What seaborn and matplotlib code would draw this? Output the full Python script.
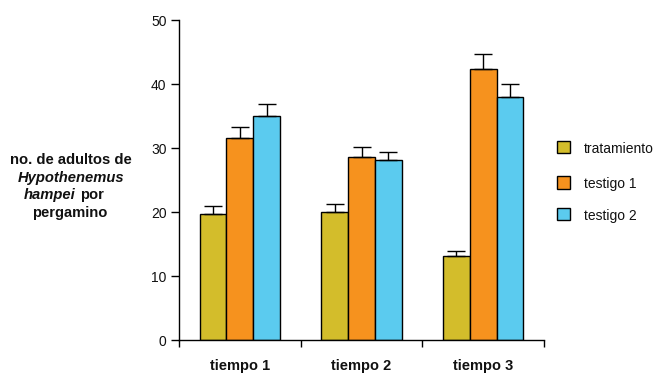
import pandas as pd
import seaborn as sns
import matplotlib.pyplot as plt
from matplotlib.ticker import FixedLocator

# Values
tiempos = ['tiempo 1', 'tiempo 2', 'tiempo 3']
grupos = ['tratamiento', 'testigo 1', 'testigo 2']
tratamiento = [19.7, 19.95, 13.1]
testigo_1 = [31.6, 28.6, 42.3]
testigo_2 = [35.0, 28.1, 37.9]
err_tratamiento = [1.2, 1.25, 0.85]
err_testigo_1 = [1.7, 1.6, 2.4]
err_testigo_2 = [1.8, 1.2, 2.1]
colores = ['#D3BD2B', '#F6921E', '#5BCBEF']

df = pd.DataFrame({
    'tiempo': tiempos * 3,
    'grupo': [g for g in grupos for _ in tiempos],
    'valor': tratamiento + testigo_1 + testigo_2,
    'err': err_tratamiento + err_testigo_1 + err_testigo_2,
})

sns.set_style('white')
plt.rcParams['font.family'] = ['Liberation Sans', 'DejaVu Sans']
plt.rcParams['text.color'] = '#111111'

fig = plt.figure(figsize=(6.59, 3.73), dpi=100)
ax = fig.add_axes([179 / 659, 33 / 373, 365 / 659, 320 / 373])

sns.barplot(data=df, x='tiempo', y='valor', hue='grupo', hue_order=grupos,
            palette=colores, saturation=1, width=0.66, gap=0, errorbar=None,
            edgecolor='black', linewidth=1.0, legend=False, ax=ax)

# upper error bars only
for cont, g in zip(ax.containers, grupos):
    errs = df.loc[df['grupo'] == g, 'err'].tolist()
    for bar, e in zip(cont, errs):
        xc = bar.get_x() + bar.get_width() / 2
        ax.errorbar(xc, bar.get_height(), yerr=[[0], [e]], fmt='none',
                    ecolor='black', elinewidth=1.0, capsize=6.5, capthick=1.0,
                    zorder=1)

ax.set_xlim(-0.5, 2.5)
ax.set_ylim(0, 50)
ax.set_yticks([0, 10, 20, 30, 40, 50])
ax.set_xlabel('')
ax.set_ylabel('')
sns.despine(ax=ax)
for s in ['left', 'bottom']:
    ax.spines[s].set_linewidth(1.0)
    ax.spines[s].set_color('black')

ax.tick_params(axis='y', direction='out', length=6, width=1.0, pad=3,
               labelsize=10, left=True, colors='black', labelcolor='#111111')
ax.tick_params(axis='x', which='major', length=0, pad=14, labelsize=10.5,
               labelcolor='#111111')
ax.xaxis.set_minor_locator(FixedLocator([-0.5, 0.5, 1.5, 2.5]))
ax.tick_params(axis='x', which='minor', direction='out', length=5, width=1.0,
               bottom=True, color='black')
for lab in ax.get_xticklabels():
    lab.set_fontweight('bold')

# y label made of pieces for the italic species name
def px(x, y):
    return x / 659, 1 - y / 373

kw = dict(fontsize=10.6, fontweight='bold', va='center')
fig.text(*px(71, 160), 'no. de adultos de', ha='center', **kw)
fig.text(*px(71, 178), 'Hypothenemus', ha='center', style='italic', **kw)
fig.text(*px(76, 195), 'hampei', ha='right', style='italic', **kw)
fig.text(*px(80, 195), 'por', ha='left', **kw)
fig.text(*px(70, 213), 'pergamino', ha='center', **kw)

# legend
leg_y = [147, 182, 214]
for g, c, y in zip(grupos, colores, leg_y):
    x0, y0 = px(557, y + 6.5)
    fig.patches.append(plt.Rectangle((x0, y0), 12.5 / 659, 12.5 / 373,
                                     transform=fig.transFigure,
                                     facecolor=c, edgecolor='black', lw=1.0))
    fig.text(*px(584, y + 2), g, ha='left', va='center', fontsize=10)

fig.savefig('out.png', dpi=100)
